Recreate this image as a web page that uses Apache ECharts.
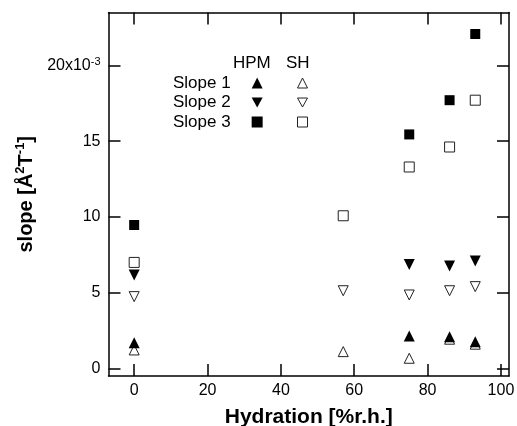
<!DOCTYPE html>
<html>
<head>
<meta charset="utf-8">
<script src="https://cdn.jsdelivr.net/npm/echarts@6/dist/echarts.min.js"></script>
<style>
html,body{margin:0;padding:0;background:#fff;}
#chart{width:517px;height:426px;}
</style>
</head>
<body>
<div id="chart"></div>
<script>
// ---- data (slope in units of 1e-3 Å^2 T^-1) ----
const hydration = [0, 57, 75, 86, 93];
const hpmSlope1 = [1.70, null, 2.14, 2.09, 1.76];
const shSlope1  = [1.22, 1.11, 0.67, 1.93, 1.60];
const hpmSlope2 = [6.17, null, 6.87, 6.76, 7.09];
const shSlope2  = [4.74, 5.13, 4.85, 5.13, 5.40];
const hpmSlope3 = [9.47, null, 15.45, 17.71, 22.08];
const shSlope3  = [7.00, 10.08, 13.30, 14.62, 17.71];
const xTicks = [0, 20, 40, 60, 80, 100];
const yTicks = [0, 5, 10, 15, 20];
const rowNames = ['Slope 1', 'Slope 2', 'Slope 3'];

const FONT = 'Liberation Sans, Arial, sans-serif';
const DOWN = 'path://M0,0L2,0L1,1.8Z';
function pairs(ys) {
  const out = [];
  ys.forEach((v, i) => { if (v !== null) out.push([hydration[i], v]); });
  return out;
}
function filled(name, ys, symbol, size) {
  return { name, type: 'scatter', data: pairs(ys), symbol, symbolSize: size,
    itemStyle: { color: '#000', borderWidth: 0, opacity: 1 }, z: 3, silent: true };
}
function open(name, ys, symbol, size) {
  return { name, type: 'scatter', data: pairs(ys), symbol, symbolSize: size,
    itemStyle: { color: '#fff', borderColor: '#222', borderWidth: 1, opacity: 1 }, z: 2, silent: true };
}
const axisLine = { show: true, onZero: false, lineStyle: { color: '#000', width: 1.5 } };
function tick(vals) { return { show: true, inside: true, length: 12, customValues: vals, lineStyle: { color: '#000', width: 1.5 } }; }

const chart = echarts.init(document.getElementById('chart'), null, { renderer: 'canvas' });
chart.setOption({
  animation: false,
  backgroundColor: '#fff',
  textStyle: { fontFamily: FONT },
  grid: { left: 108.5, right: 8, top: 12.5, bottom: 50, containLabel: false, outerBoundsMode: 'none' },
  xAxis: [
    { type: 'value', position: 'bottom', min: -7, max: 102.2,
      axisLine, axisTick: tick(xTicks), splitLine: { show: false },
      axisLabel: { customValues: xTicks, margin: 7, color: '#000', fontSize: 16, fontFamily: FONT },
      name: 'Hydration [%r.h.]', nameLocation: 'middle', nameGap: 31,
      nameTextStyle: { color: '#000', fontSize: 21, fontWeight: 'bold', fontFamily: FONT } },
    { type: 'value', position: 'top', min: -7, max: 102.2,
      axisLine, axisTick: tick(xTicks), splitLine: { show: false }, axisLabel: { show: false } }
  ],
  yAxis: [
    { type: 'value', position: 'left', min: -0.5, max: 23.5,
      axisLine, axisTick: tick(yTicks), splitLine: { show: false },
      axisLabel: { customValues: yTicks, margin: 8, color: '#000', fontSize: 16, fontFamily: FONT,
        formatter: v => v === 20 ? '{n|20x10}{s|-3}' : String(v),
        rich: { n: { fontSize: 16, fontFamily: FONT, color: '#000', lineHeight: 18 },
                s: { fontSize: 11, fontFamily: FONT, color: '#000', verticalAlign: 'top', lineHeight: 11 } } },
      name: '{t|slope [Å}{s|2}{t|T}{s|-1}{t|]}', nameLocation: 'middle', nameGap: 64, nameRotate: 90,
      nameTextStyle: { color: '#000', fontFamily: FONT,
        rich: { t: { fontSize: 20, fontWeight: 'bold', fontFamily: FONT, color: '#000', lineHeight: 25 },
                s: { fontSize: 13, fontWeight: 'bold', fontFamily: FONT, color: '#000', verticalAlign: 'top', lineHeight: 13 } } } },
    { type: 'value', position: 'right', min: -0.5, max: 23.5,
      axisLine, axisTick: tick(yTicks), splitLine: { show: false }, axisLabel: { show: false } }
  ],
  legend: [
    { data: rowNames.map((r, i) => ({ name: 'HPM ' + r, icon: i === 1 ? DOWN : (i === 0 ? 'triangle' : 'rect') })),
      orient: 'vertical', left: 173, top: 73.25, padding: 0,
      align: 'right', itemGap: 0, itemWidth: 11, itemHeight: 11, selectedMode: false,
      itemStyle: { borderWidth: 0 },
      formatter: n => n.replace('HPM ', ''),
      textStyle: { fontSize: 17, fontFamily: FONT, color: '#000', lineHeight: 19.5, padding: [0, 16, 0, 0] } },
    { data: rowNames.map((r, i) => ({ name: 'SH ' + r, icon: i === 1 ? DOWN : (i === 0 ? 'triangle' : 'rect') })),
      orient: 'vertical', left: 297, top: 73.25, padding: 0,
      align: 'left', itemGap: 0, itemWidth: 10, itemHeight: 10, selectedMode: false,
      itemStyle: { borderWidth: 1, borderColor: '#222', color: '#fff' },
      formatter: () => ' ',
      textStyle: { fontSize: 17, fontFamily: FONT, color: '#000', lineHeight: 19.5 } }
  ],
  graphic: [
    { type: 'text', x: 233, y: 63, silent: true,
      style: { text: 'HPM', fontSize: 17, fontFamily: FONT, fill: '#000', verticalAlign: 'middle' } },
    { type: 'text', x: 286, y: 63, silent: true,
      style: { text: 'SH', fontSize: 17, fontFamily: FONT, fill: '#000', verticalAlign: 'middle' } }
  ],
  series: [
    open('SH ' + rowNames[0], shSlope1, 'triangle', 10),
    open('SH ' + rowNames[1], shSlope2, DOWN, 10),
    open('SH ' + rowNames[2], shSlope3, 'rect', 10),
    filled('HPM ' + rowNames[0], hpmSlope1, 'triangle', 11),
    filled('HPM ' + rowNames[1], hpmSlope2, DOWN, 11),
    filled('HPM ' + rowNames[2], hpmSlope3, 'rect', 10)
  ]
});
</script>
</body>
</html>
